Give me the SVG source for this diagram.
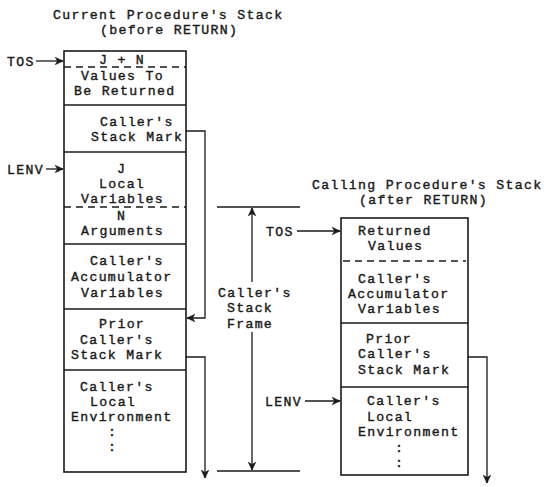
<svg xmlns="http://www.w3.org/2000/svg" width="544" height="487" viewBox="0 0 544 487">
<defs>
<style>
text{font-family:"Liberation Mono","Courier New",monospace;font-size:13.2px;letter-spacing:1.3px;fill:#1a1a1a;stroke:#1a1a1a;stroke-width:0.4}
.box{fill:none;stroke:#1a1a1a;stroke-width:1.6}
.sep{stroke:#1a1a1a;stroke-width:1.6}
.dash{stroke:#1a1a1a;stroke-width:1.4;stroke-dasharray:7 5}
.conn{fill:none;stroke:#1a1a1a;stroke-width:1.3}
</style>
<marker id="ah" viewBox="0 0 10 10" refX="9.5" refY="5" markerWidth="9" markerHeight="9" markerUnits="userSpaceOnUse" orient="auto">
<path d="M1,1 L9.5,5 L1,9 L3.5,5 Z" fill="#1a1a1a" stroke="#1a1a1a" stroke-width="0.8" stroke-linejoin="round"/>
</marker>
</defs>
<rect width="544" height="487" fill="#fff"/>

<g id="title-current">
<text><tspan x="53" y="19">Current Procedure's Stack</tspan><tspan x="100" y="34">(before RETURN)</tspan></text>
</g>
<g id="title-calling">
<text><tspan x="312" y="189">Calling Procedure's Stack</tspan><tspan x="359" y="204">(after RETURN)</tspan></text>
</g>

<g id="current-stack">
<rect class="box" x="64" y="51" width="122" height="421"/>
<line class="dash" x1="64" y1="67" x2="186" y2="67"/>
<line class="sep" x1="64" y1="105" x2="186" y2="105"/>
<line class="sep" x1="64" y1="152" x2="186" y2="152"/>
<line class="dash" x1="64" y1="207" x2="186" y2="207"/>
<line class="sep" x1="64" y1="244" x2="186" y2="244"/>
<line class="sep" x1="64" y1="309" x2="186" y2="309"/>
<line class="sep" x1="64" y1="370" x2="186" y2="370"/>
</g>
<g id="cell-values-returned">
<text><tspan x="99" y="64">J + N</tspan><tspan x="81" y="80">Values To</tspan><tspan x="74" y="95">Be Returned</tspan></text>
</g>
<g id="cell-callers-stack-mark">
<text><tspan x="100" y="126">Caller's</tspan><tspan x="91" y="141">Stack Mark</tspan></text>
</g>
<g id="cell-local-variables">
<text><tspan x="117" y="173">J</tspan><tspan x="99" y="188">Local</tspan><tspan x="81" y="203">Variables</tspan></text>
</g>
<g id="cell-arguments">
<text><tspan x="117" y="220">N</tspan><tspan x="81" y="235">Arguments</tspan></text>
</g>
<g id="cell-accumulator">
<text><tspan x="90" y="265">Caller's</tspan><tspan x="71" y="281">Accumulator</tspan><tspan x="81" y="297">Variables</tspan></text>
</g>
<g id="cell-prior-stack-mark">
<text><tspan x="99" y="328">Prior</tspan><tspan x="80" y="344">Caller's</tspan><tspan x="71" y="359">Stack Mark</tspan></text>
</g>
<g id="cell-local-environment">
<text><tspan x="80" y="391">Caller's</tspan><tspan x="90" y="406">Local</tspan><tspan x="71" y="421">Environment</tspan><tspan x="108" y="436">:</tspan><tspan x="108" y="451">:</tspan></text>
</g>

<g id="calling-stack">
<rect class="box" x="341" y="218" width="127" height="257"/>
<line class="dash" x1="343" y1="261" x2="466" y2="261"/>
<line class="sep" x1="341" y1="323" x2="468" y2="323"/>
<line class="sep" x1="341" y1="387" x2="468" y2="387"/>
</g>
<g id="r-cell-returned-values">
<text><tspan x="358" y="235">Returned</tspan><tspan x="368" y="250">Values</tspan></text>
</g>
<g id="r-cell-accumulator">
<text><tspan x="358" y="283">Caller's</tspan><tspan x="348" y="298">Accumulator</tspan><tspan x="358" y="313">Variables</tspan></text>
</g>
<g id="r-cell-prior-stack-mark">
<text><tspan x="366" y="343">Prior</tspan><tspan x="358" y="358">Caller's</tspan><tspan x="358" y="374">Stack Mark</tspan></text>
</g>
<g id="r-cell-local-environment">
<text><tspan x="367" y="405">Caller's</tspan><tspan x="367" y="421">Local</tspan><tspan x="358" y="436">Environment</tspan><tspan x="395" y="452">:</tspan><tspan x="395" y="467">:</tspan></text>
</g>

<g id="labels">
<text x="7" y="66">TOS</text>
<text x="7" y="174">LENV</text>
<text x="266" y="236">TOS</text>
<text x="265" y="406">LENV</text>
<text><tspan x="218" y="297">Caller's</tspan><tspan x="227" y="312">Stack</tspan><tspan x="227" y="328">Frame</tspan></text>
</g>

<g id="connectors">
<line class="conn" x1="36" y1="61" x2="63" y2="61" marker-end="url(#ah)"/>
<line class="conn" x1="46" y1="169" x2="63" y2="169" marker-end="url(#ah)"/>
<line class="conn" x1="297" y1="231" x2="340" y2="231" marker-end="url(#ah)"/>
<line class="conn" x1="305" y1="401" x2="340" y2="401" marker-end="url(#ah)"/>
<polyline class="conn" points="186,131 205,131 205,318 187,318" marker-end="url(#ah)"/>
<polyline class="conn" points="186,357 205,357 205,478" marker-end="url(#ah)"/>
<polyline class="conn" points="468,357 487,357 487,483" marker-end="url(#ah)"/>
<line class="conn" x1="217" y1="207" x2="300" y2="207"/>
<line class="conn" x1="217" y1="471" x2="300" y2="471"/>
<line class="conn" x1="252" y1="282" x2="252" y2="208" marker-end="url(#ah)"/>
<line class="conn" x1="252" y1="332" x2="252" y2="470" marker-end="url(#ah)"/>
</g>
</svg>
